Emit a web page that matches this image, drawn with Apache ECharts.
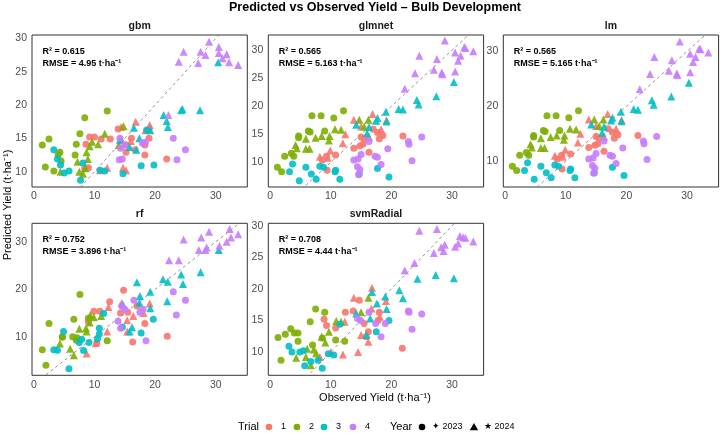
<!DOCTYPE html>
<html><head><meta charset="utf-8">
<script src="https://cdn.jsdelivr.net/npm/echarts@6/dist/echarts.min.js"></script>
<style>html,body{margin:0;padding:0;background:#fff}#c{width:721px;height:433px}</style>
</head><body><div id="c"></div>
<script>
// ---------- data ----------
const trialNames = ['1','2','3','4'];
const trialColors = ['#F8766D','#7CAE00','#00BFC4','#C77CFF'];
const yearLabels = ['✦ 2023','★ 2024'];
const modelNames = ['gbm','glmnet','lm','rf','svmRadial'];
const r2Values = ['0.615','0.565','0.565','0.752','0.708'];
const rmseValues = ['4.95','5.163','5.165','3.896','4.44'];
const xTicks = [0,10,20,30];
const yTicksGbm = [10,15,20,25,30];
const yTicksGlmnet = [10,15,20,25,30];
const yTicksLm = [10,20,30];
const yTicksRf = [10,20,30];
const yTicksSvm = [10,15,20,25,30];

// rows: [observed, predicted, trial, year]
const gbm = [
[28.9,29.5,4,2024],[30.5,28.7,4,2024],[24.7,28.0,4,2024],[27.5,28.0,4,2024],[28.3,27.5,4,2024],[30.5,27.8,4,2024],[31.8,27.6,4,2024],[31.1,27.0,4,2024],[23.9,26.5,4,2024],[27.1,26.3,4,2024],[32.2,26.4,4,2024],[33.7,26.0,4,2024],[22.2,18.5,4,2024],
[30.4,26.4,3,2024],[24.5,19.4,3,2024],[24.3,19.2,3,2024],[27.4,19.2,3,2024],[21.4,18.5,3,2024],[21.9,17.6,3,2024],[22.1,16.7,3,2024],[19.2,16.2,3,2024],[14.2,14.8,3,2024],[15.8,13.7,3,2024],[17.4,15.0,3,2024],[16.9,13.3,3,2024],[16.5,16.6,3,2024],
[14.4,16.7,1,2024],[16.8,17.5,1,2024],[19.1,17.0,1,2024],[18.4,16.2,1,2024],[14.5,14.7,1,2024],[14.7,10.6,1,2024],[15.2,10.2,1,2024],[12.1,10.6,1,2024],[10.9,10.2,1,2024],[8.4,10.6,1,2024],[16.0,14.6,1,2024],
[19.0,16.4,1,2023],[16.1,15.0,1,2023],[19.0,15.0,1,2023],[15.2,14.0,1,2023],[18.3,14.0,1,2023],[15.2,12.9,1,2023],[18.3,12.5,1,2023],[16.7,13.3,1,2023],[21.9,11.9,1,2023],[9.2,15.2,1,2023],[10.0,15.2,1,2023],[11.1,14.9,1,2023],[12.6,14.9,1,2023],[8.6,14.1,1,2023],[8.4,10.5,1,2023],[9.0,10.6,1,2023],[13.9,16.4,1,2023],
[12.1,19.1,2,2023],[8.4,18.1,2,2023],[2.5,14.9,2,2023],[1.4,14.0,2,2023],[7.6,15.7,2,2023],[7.0,14.1,2,2023],[4.3,12.9,2,2023],[4.0,12.5,2,2023],[4.5,11.6,2,2023],[1.9,10.7,2,2023],[3.3,10.1,2,2023],[6.8,12.5,2,2023],
[11.7,15.7,2,2024],[10.6,14.1,2,2024],[9.2,13.8,2,2024],[9.6,14.5,2,2024],[8.7,12.9,2,2024],[8.9,11.9,2,2024],[7.2,11.5,2,2024],[4.4,10.0,2,2024],[7.5,10.0,2,2024],[8.1,9.7,2,2024],[8.5,10.5,2,2024],[14.8,16.8,2,2024],[14.0,14.0,2,2024],
[3.3,13.3,3,2023],[3.9,11.9,3,2023],[4.4,11.0,3,2023],[5.0,9.8,3,2023],[5.8,10.1,3,2023],[7.7,8.7,3,2023],[8.1,11.3,3,2023],[10.9,10.2,3,2023],[11.7,10.1,3,2023],[17.7,10.9,3,2023],[19.8,11.0,3,2023],[14.7,9.7,3,2023],[18.6,16.2,3,2023],
[14.2,15.0,4,2023],[14.1,11.8,4,2023],[14.6,11.9,4,2023],[14.3,13.5,4,2023],[17.9,14.3,4,2023],[18.4,14.4,4,2023],[23.0,15.0,4,2023],[25.0,13.3,4,2023],[23.6,11.8,4,2023],[15.0,14.0,4,2023]
];
const glmnet = [
[28.8,31.7,4,2024],[32.0,30.5,4,2024],[32.2,30.4,4,2024],[33.5,29.8,4,2024],[30.5,29.6,4,2024],[31.4,29.0,4,2024],[31.0,28.1,4,2024],[24.6,29.0,4,2024],[27.5,28.4,4,2024],[27.0,26.5,4,2024],[28.3,26.0,4,2024],[28.4,25.7,4,2024],[30.5,26.2,4,2024],[23.9,25.9,4,2024],[22.2,23.1,4,2024],
[30.3,24.3,3,2024],[27.4,21.8,3,2024],[24.2,21.1,3,2024],[24.5,20.3,3,2024],[21.2,19.5,3,2024],[21.9,19.4,3,2024],[19.1,19.0,3,2024],[19.2,17.3,3,2024],[17.7,17.9,3,2024],[14.2,16.7,3,2024],[16.3,16.3,3,2024],[16.0,15.2,3,2024],[17.5,17.4,3,2024],
[16.9,18.6,1,2024],[13.8,17.6,1,2024],[19.2,17.5,1,2024],[18.3,15.9,1,2024],[15.0,16.4,1,2024],[12.4,15.0,1,2024],[12.0,13.4,1,2024],[16.3,14.5,1,2024],[9.9,12.1,1,2024],[8.2,11.0,1,2024],[9.5,10.8,1,2024],
[17.0,15.9,1,2023],[15.0,14.5,1,2023],[15.5,14.2,1,2023],[18.0,14.2,1,2023],[18.6,14.8,1,2023],[13.8,12.5,1,2023],[14.8,12.9,1,2023],[15.3,13.2,1,2023],[16.3,11.8,1,2023],[21.9,14.7,1,2023],[10.8,11.3,1,2023],[9.3,11.1,1,2023],[8.6,10.4,1,2023],[9.4,8.6,1,2023],[17.7,15.3,1,2023],
[12.1,19.2,2,2023],[8.4,18.3,2,2023],[6.9,18.3,2,2023],[10.5,17.9,2,2023],[6.3,15.6,2,2023],[6.6,15.4,2,2023],[9.0,15.6,2,2023],[4.7,14.7,2,2023],[4.7,14.4,2,2023],[2.4,11.1,2,2023],[3.5,11.6,2,2023],[3.9,11.1,2,2023],[1.2,9.1,2,2023],[1.9,8.3,2,2023],
[10.7,15.9,2,2024],[11.7,15.8,2,2024],[8.5,14.7,2,2024],[9.8,14.7,2,2024],[7.5,14.4,2,2024],[5.9,14.2,2,2024],[9.7,13.9,2,2024],[4.2,13.1,2,2024],[4.4,12.5,2,2024],[5.9,12.4,2,2024],[6.5,12.4,2,2024],[14.7,17.6,2,2024],[16.2,17.6,2,2024],[15.5,16.4,2,2024],
[3.7,9.7,3,2023],[3.2,8.3,3,2023],[5.9,9.1,3,2023],[8.2,9.3,3,2023],[8.8,9.1,3,2023],[6.8,7.9,3,2023],[4.8,6.7,3,2023],[7.6,7.0,3,2023],[10.8,8.6,3,2023],[10.7,8.3,3,2023],[11.5,7.0,3,2023],[14.7,7.9,3,2023],[17.7,8.9,3,2023],[19.6,7.4,3,2023],
[16.3,13.7,4,2023],[19.4,12.4,4,2023],[13.8,10.4,4,2023],[14.5,10.6,4,2023],[17.3,11.1,4,2023],[17.7,10.9,4,2023],[18.3,9.6,4,2023],[14.4,9.2,4,2023],[14.8,8.7,4,2023],[14.6,7.8,4,2023],[22.8,13.7,4,2023],[22.9,13.2,4,2023],[25.0,14.5,4,2023],[23.4,10.3,4,2023],[15.0,11.4,4,2023]
];
const lm = [
[28.8,31.8,4,2024],[32.0,30.5,4,2024],[32.2,30.4,4,2024],[33.5,29.8,4,2024],[30.5,29.6,4,2024],[31.4,29.0,4,2024],[31.0,28.1,4,2024],[24.6,29.0,4,2024],[27.5,28.4,4,2024],[27.0,26.5,4,2024],[28.3,26.0,4,2024],[28.4,25.7,4,2024],[30.5,26.2,4,2024],[23.9,25.9,4,2024],[22.2,23.1,4,2024],
[30.3,24.3,3,2024],[27.4,21.8,3,2024],[24.2,21.1,3,2024],[24.5,20.3,3,2024],[21.2,19.5,3,2024],[21.9,19.4,3,2024],[19.1,19.0,3,2024],[19.2,17.3,3,2024],[17.7,17.9,3,2024],[14.2,16.7,3,2024],[16.3,16.3,3,2024],[16.0,15.2,3,2024],[17.5,17.4,3,2024],
[16.9,18.6,1,2024],[13.8,17.6,1,2024],[19.2,17.5,1,2024],[18.3,15.9,1,2024],[15.0,16.4,1,2024],[12.4,15.0,1,2024],[12.0,13.4,1,2024],[16.3,14.5,1,2024],[9.9,12.1,1,2024],[8.2,11.0,1,2024],[9.5,10.8,1,2024],
[17.0,15.9,1,2023],[15.0,14.5,1,2023],[15.5,14.2,1,2023],[18.0,14.2,1,2023],[18.6,14.8,1,2023],[13.8,12.5,1,2023],[14.8,12.9,1,2023],[15.3,13.2,1,2023],[16.3,11.8,1,2023],[21.9,14.7,1,2023],[10.8,11.3,1,2023],[9.3,11.1,1,2023],[8.6,10.4,1,2023],[9.4,8.6,1,2023],[17.7,15.3,1,2023],
[12.1,19.2,2,2023],[8.4,18.3,2,2023],[6.9,18.3,2,2023],[10.5,17.9,2,2023],[6.3,15.6,2,2023],[6.6,15.4,2,2023],[9.0,15.6,2,2023],[4.7,14.7,2,2023],[4.7,14.4,2,2023],[2.4,11.1,2,2023],[3.5,11.6,2,2023],[3.9,11.1,2,2023],[1.2,9.1,2,2023],[1.9,8.3,2,2023],
[10.7,15.9,2,2024],[11.7,15.8,2,2024],[8.5,14.7,2,2024],[9.8,14.7,2,2024],[7.5,14.4,2,2024],[5.9,14.2,2,2024],[9.7,13.9,2,2024],[4.2,13.1,2,2024],[4.4,12.5,2,2024],[5.9,12.4,2,2024],[6.5,12.4,2,2024],[14.7,17.6,2,2024],[16.2,17.6,2,2024],[15.5,16.4,2,2024],
[3.7,9.7,3,2023],[3.2,8.3,3,2023],[5.9,9.1,3,2023],[8.2,9.3,3,2023],[8.8,9.1,3,2023],[6.8,7.9,3,2023],[4.8,6.7,3,2023],[7.6,7.0,3,2023],[10.8,8.6,3,2023],[10.7,8.3,3,2023],[11.5,7.0,3,2023],[14.7,7.9,3,2023],[17.7,8.9,3,2023],[19.6,7.4,3,2023],
[16.3,13.7,4,2023],[19.4,12.4,4,2023],[13.8,10.4,4,2023],[14.5,10.6,4,2023],[17.3,11.1,4,2023],[17.7,10.9,4,2023],[18.3,9.6,4,2023],[14.4,9.2,4,2023],[14.8,8.7,4,2023],[14.6,7.8,4,2023],[22.8,13.7,4,2023],[22.9,13.2,4,2023],[25.0,14.5,4,2023],[23.4,10.3,4,2023],[15.0,11.4,4,2023]
];
const rf = [
[32.3,32.7,4,2024],[28.9,32.1,4,2024],[33.7,31.6,4,2024],[27.6,30.9,4,2024],[24.7,30.5,4,2024],[32.5,30.9,4,2024],[31.8,30.0,4,2024],[30.6,29.2,4,2024],[28.5,28.8,4,2024],[27.2,28.3,4,2024],[28.3,28.3,4,2024],[22.3,26.1,4,2024],[23.9,26.1,4,2024],
[30.5,28.3,3,2024],[27.5,23.6,3,2024],[24.3,23.1,3,2024],[21.3,22.1,3,2024],[22.1,21.6,3,2024],[24.6,21.1,3,2024],[17.0,21.5,3,2024],[19.2,19.5,3,2024],[17.5,18.6,3,2024],[22.0,17.5,3,2024],[14.7,16.7,3,2024],[17.4,17.2,3,2024],[19.2,16.0,3,2024],[15.8,11.1,3,2024],[16.2,12.0,3,2024],
[14.8,19.8,1,2023],[12.5,17.4,1,2023],[9.9,15.4,1,2023],[10.9,15.4,1,2023],[14.3,15.0,1,2023],[9.0,13.2,1,2023],[15.5,15.2,1,2023],[17.0,16.5,1,2023],[18.3,12.8,1,2023],[22.0,10.1,1,2023],[16.3,8.9,1,2023],[10.4,8.7,1,2023],
[14.5,17.1,1,2024],[12.3,16.3,1,2024],[19.1,17.0,1,2024],[18.1,15.0,1,2024],[16.4,14.4,1,2024],[15.4,13.5,1,2024],[12.1,11.1,1,2024],[15.4,11.1,1,2024],[10.2,8.7,1,2024],[8.7,6.5,1,2024],
[14.5,16.5,4,2023],[15.0,15.8,4,2023],[16.5,17.7,4,2023],[23.0,19.5,4,2023],[25.0,17.7,4,2023],[23.5,14.6,4,2023],[17.5,15.2,4,2023],[13.9,13.3,4,2023],[18.0,15.8,4,2023],[14.3,11.8,4,2023],[18.5,9.2,4,2023],
[7.6,18.9,2,2023],[6.6,13.7,2,2023],[2.5,12.8,2,2023],[9.0,13.9,2,2023],[4.7,10.0,2,2023],[6.4,10.0,2,2023],[7.1,9.8,2,2023],[12.1,9.2,2,2023],[1.4,7.3,2,2023],[2.0,4.0,2,2023],[4.7,9.9,2,2023],[7.0,9.3,2,2023],
[9.3,14.6,2,2024],[9.2,13.0,2,2024],[11.1,14.4,2,2024],[8.6,11.8,2,2024],[7.5,11.7,2,2024],[8.7,11.1,2,2024],[4.3,8.6,2,2024],[6.0,7.5,2,2024],[6.6,6.1,2,2024],[9.9,14.1,2,2024],
[11.5,14.9,3,2023],[10.8,10.6,3,2023],[10.5,9.6,3,2023],[4.9,11.1,3,2023],[7.5,8.8,3,2023],[9.1,8.8,3,2023],[3.3,7.3,3,2023],[3.9,7.2,3,2023],[19.7,13.7,3,2023],[17.7,10.8,3,2023],[14.6,12.0,3,2023],[5.8,3.3,3,2023],[7.9,9.5,3,2023],[8.2,7.1,3,2023],[10.8,11.8,3,2023]
];
const svmRadial = [
[24.6,29.2,4,2024],[27.5,29.5,4,2024],[31.3,28.4,4,2024],[31.8,28.2,4,2024],[32.2,28.1,4,2024],[33.5,27.5,4,2024],[31.0,27.2,4,2024],[30.5,26.7,4,2024],[28.8,27.0,4,2024],[28.2,26.6,4,2024],[28.6,26.0,4,2024],[27.0,25.7,4,2024],[23.8,24.1,4,2024],[22.2,22.9,4,2024],
[27.3,22.2,3,2024],[30.3,21.7,3,2024],[24.3,21.6,3,2024],[21.3,19.8,3,2024],[21.9,18.5,3,2024],[19.0,18.8,3,2024],[19.2,16.8,3,2024],[16.8,19.5,3,2024],[17.6,17.7,3,2024],[14.2,16.1,3,2024],[16.5,15.3,3,2024],[15.9,12.7,3,2024],
[16.8,20.2,1,2024],[13.8,18.6,1,2024],[19.1,18.1,1,2024],[16.7,16.9,1,2024],[18.1,15.6,1,2024],[12.3,14.8,1,2024],[15.0,12.7,1,2024],[16.2,11.6,1,2024],[8.2,9.2,1,2024],[12.0,9.6,1,2024],[14.5,10.0,1,2024],[10.0,10.0,1,2024],
[14.7,18.2,1,2023],[13.7,16.5,1,2023],[12.4,16.3,1,2023],[8.9,15.2,1,2023],[9.3,14.2,1,2023],[10.8,13.8,1,2023],[18.0,16.3,1,2023],[17.8,15.0,1,2023],[16.2,13.2,1,2023],[15.8,12.4,1,2023],[21.8,10.6,1,2023],[15.5,14.5,1,2023],
[14.4,15.3,4,2023],[14.9,15.0,4,2023],[22.8,16.5,4,2023],[22.9,16.3,4,2023],[25.0,16.0,4,2023],[23.4,13.6,4,2023],[17.4,14.5,4,2023],[19.0,14.5,4,2023],[18.3,12.4,4,2023],[16.3,16.3,4,2023],
[7.5,16.8,2,2023],[9.0,16.3,2,2023],[6.6,14.8,2,2023],[3.4,13.7,2,2023],[4.0,13.0,2,2023],[4.6,13.0,2,2023],[2.5,12.8,2,2023],[1.3,12.3,2,2023],[4.6,11.7,2,2023],[8.6,12.2,2,2023],[10.8,11.9,2,2023],[12.3,11.7,2,2023],[7.0,11.1,2,2023],[1.8,8.7,2,2023],
[10.9,14.9,2,2024],[11.7,14.8,2,2024],[16.2,18.6,2,2024],[15.0,16.3,2,2024],[9.7,13.2,2,2024],[8.5,12.4,2,2024],[9.1,11.5,2,2024],[6.1,10.5,2,2024],[7.2,10.4,2,2024],[4.3,9.1,2,2024],[5.9,9.2,2,2024],[6.7,7.9,2,2024],[7.6,9.8,2,2024],
[3.1,10.9,3,2023],[11.5,14.4,3,2023],[19.6,15.0,3,2023],[17.5,13.2,3,2023],[3.6,10.0,3,2023],[4.9,10.0,3,2023],[5.7,7.8,3,2023],[6.7,8.5,3,2023],[7.9,8.7,3,2023],[8.6,7.4,3,2023],[9.6,9.7,3,2023],[10.5,9.5,3,2023],[5.5,10.2,3,2023]
];

// ---------- layout ----------
const FONT = '"Liberation Sans", Arial, sans-serif';
const panelData = [gbm, glmnet, lm, rf, svmRadial];
const yTickSets = [yTicksGbm, yTicksGlmnet, yTicksLm, yTicksRf, yTicksSvm];
const yRanges = [[7.7,30.5],[5.6,32.7],[5.3,33.0],[1.9,33.9],[6.3,30.4]];
const xRange = [-0.3,35.2];
const panelPos = [[32,35],[268.3,35],[503.3,35],[32,223.3],[268.3,223.3]];
const PW = 215.3, PH = 152;

const chart = echarts.init(document.getElementById('c'), null, {renderer:'canvas'});
const grids = [], xAxes = [], yAxes = [], series = [], graphics = [];

panelPos.forEach((p, i) => {
  grids.push({left:p[0], top:p[1], width:PW, height:PH, show:true, borderColor:'#333', borderWidth:1, backgroundColor:'#fff', containLabel:false});
  xAxes.push({type:'value', gridIndex:i, min:xRange[0], max:xRange[1],
    axisLine:{show:false}, axisTick:{show:false}, splitLine:{show:false},
    axisLabel:{customValues:xTicks, color:'#4d4d4d', fontSize:10.5, fontFamily:FONT, margin:4}});
  yAxes.push({type:'value', gridIndex:i, min:yRanges[i][0], max:yRanges[i][1],
    axisLine:{show:false}, axisTick:{show:false}, splitLine:{show:false},
    axisLabel:{customValues:yTickSets[i], color:'#4d4d4d', fontSize:10.5, fontFamily:FONT, margin:5}});
  series.push({type:'line', xAxisIndex:i, yAxisIndex:i, data:[[-5,-5],[40,40]], symbol:'none', silent:true, clip:true, z:1,
    lineStyle:{type:[3,3], color:'#777', width:0.8}});
  trialNames.forEach((t, ti) => {
    const pts = panelData[i].filter(r => r[2] === ti+1).map(r => ({
      value:[r[0], r[1]],
      symbol: r[3] === 2023 ? 'circle' : 'triangle',
      symbolSize: r[3] === 2023 ? 7 : 8
    }));
    series.push({type:'scatter', name:t, xAxisIndex:i, yAxisIndex:i, data:pts, z:2,
      itemStyle:{color:trialColors[ti], opacity:0.9}, silent:true});
  });
  graphics.push({type:'text', x:p[0]+PW/2, y:p[1]-9, style:{text:modelNames[i], font:'bold 10.5px '+FONT, fill:'#1a1a1a', textAlign:'center', textVerticalAlign:'middle'}});
  graphics.push({type:'text', x:p[0]+10.5, y:p[1]+16.5, style:{text:'R² = '+r2Values[i], font:'bold 9px '+FONT, fill:'#000', textAlign:'left', textVerticalAlign:'middle'}});
  graphics.push({type:'text', x:p[0]+10.5, y:p[1]+28.5, style:{text:'RMSE = '+rmseValues[i]+' t·ha⁻¹', font:'bold 9px '+FONT, fill:'#000', textAlign:'left', textVerticalAlign:'middle'}});
});

// titles
graphics.push({type:'text', x:375, y:8, style:{text:'Predicted vs Observed Yield – Bulb Development', font:'bold 12.5px '+FONT, fill:'#000', textAlign:'center', textVerticalAlign:'middle'}});
graphics.push({type:'text', x:375, y:398, style:{text:'Observed Yield (t·ha⁻¹)', font:'11px '+FONT, fill:'#000', textAlign:'center', textVerticalAlign:'middle'}});
graphics.push({type:'text', x:8, y:205, rotation:Math.PI/2, style:{text:'Predicted Yield (t·ha⁻¹)', font:'11px '+FONT, fill:'#000', textAlign:'center', textVerticalAlign:'middle'}});

// legend
const LY = 427;
graphics.push({type:'text', x:238, y:LY, style:{text:'Trial', font:'11px '+FONT, fill:'#000', textVerticalAlign:'middle'}});
const dotX = [269,297,324,353];
trialNames.forEach((t, ti) => {
  graphics.push({type:'circle', shape:{cx:dotX[ti], cy:LY, r:3.3}, style:{fill:trialColors[ti]}});
  graphics.push({type:'text', x:dotX[ti]+12, y:LY, style:{text:t, font:'9px '+FONT, fill:'#000', textVerticalAlign:'middle'}});
});
graphics.push({type:'text', x:390, y:LY, style:{text:'Year', font:'11px '+FONT, fill:'#000', textVerticalAlign:'middle'}});
graphics.push({type:'circle', shape:{cx:422, cy:LY, r:3.3}, style:{fill:'#000'}});
graphics.push({type:'text', x:432, y:LY, style:{text:yearLabels[0], font:'9px '+FONT, fill:'#000', textVerticalAlign:'middle'}});
graphics.push({type:'polygon', shape:{points:[[474,LY-4],[478.2,LY+3.2],[469.8,LY+3.2]]}, style:{fill:'#000'}});
graphics.push({type:'text', x:484, y:LY, style:{text:yearLabels[1], font:'9px '+FONT, fill:'#000', textVerticalAlign:'middle'}});

chart.setOption({
  animation:false,
  backgroundColor:'#fff',
  grid:grids, xAxis:xAxes, yAxis:yAxes, series:series, graphic:graphics
});
</script></body></html>
